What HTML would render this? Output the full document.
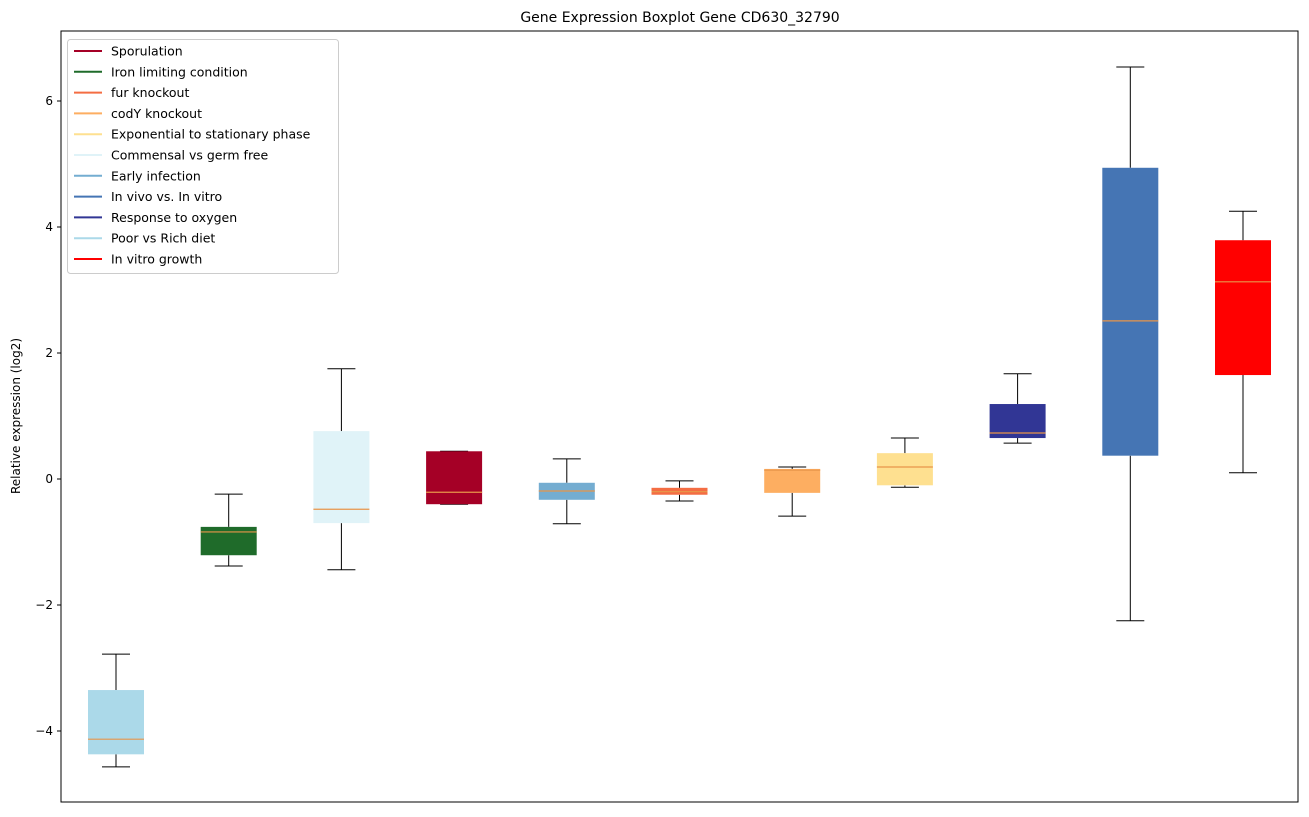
<!DOCTYPE html>
<html><head><meta charset="utf-8"><style>
body{margin:0;background:#fff;font-family:"Liberation Sans","DejaVu Sans",sans-serif;}
svg text{font-family:"DejaVu Sans","Liberation Sans",sans-serif;}
</style></head><body>
<svg id="chart" width="1309" height="812"></svg>
<script>
const categories=["Poor vs Rich diet","Iron limiting condition","Commensal vs germ free","Sporulation","Early infection","fur knockout","codY knockout","Exponential to stationary phase","Response to oxygen","In vivo vs. In vitro","In vitro growth"];
const colors=["#abd9e9","#1f6b2a","#e0f3f8","#a50026","#74add1","#f46d43","#fdae61","#fee090","#313695","#4575b4","#ff0000"];
const whiskerLow=[-4.57,-1.38,-1.44,-0.40,-0.71,-0.35,-0.59,-0.13,0.57,-2.25,0.10];
const q1=[-4.37,-1.21,-0.70,-0.40,-0.33,-0.25,-0.22,-0.10,0.65,0.37,1.65];
const median=[-4.13,-0.84,-0.48,-0.21,-0.19,-0.20,0.14,0.19,0.73,2.51,3.13];
const q3=[-3.35,-0.76,0.76,0.44,-0.06,-0.14,0.16,0.41,1.19,4.94,3.79];
const whiskerHigh=[-2.78,-0.24,1.75,0.44,0.32,-0.03,0.19,0.65,1.67,6.54,4.25];
const yTicks=[-4,-2,0,2,4,6];
const legendLabels=["Sporulation","Iron limiting condition","fur knockout","codY knockout","Exponential to stationary phase","Commensal vs germ free","Early infection","In vivo vs. In vitro","Response to oxygen","Poor vs Rich diet","In vitro growth"];
const legendColors=["#a50026","#1f6b2a","#f46d43","#fdae61","#fee090","#e0f3f8","#74add1","#4575b4","#313695","#abd9e9","#ff0000"];

const svg=document.getElementById('chart');const NS="http://www.w3.org/2000/svg";
const L=61,R=1298,T=31,B=802;
const y=v=>479-63*v;
const x=i=>116+i*112.7;
function mk(tag,attrs,parent){const e=document.createElementNS(NS,tag);for(const k in attrs)e.setAttribute(k,attrs[k]);(parent||svg).appendChild(e);return e;}
let t=mk('text',{x:680,y:22,'text-anchor':'middle','font-size':14,fill:'#000'});t.textContent="Gene Expression Boxplot Gene CD630_32790";


t=mk('text',{x:20,y:416,'text-anchor':'middle','font-size':12,transform:'rotate(-90 20 416)'});t.textContent="Relative expression (log2)";


yTicks.forEach(v=>{
 const l=mk('line',{x1:L-4,x2:L,y1:y(v),y2:y(v),stroke:'#000'});
 
 
 const tt=mk('text',{x:L-8,y:y(v)+4,'text-anchor':'end','font-size':12});tt.textContent=(v<0?'\u2212'+(-v):v);
 
 
});
categories.forEach((c,i)=>{
 const g=mk('g',{});
 
 
 const cx=x(i),hw=28,cw=14;
 mk('line',{x1:cx,x2:cx,y1:y(whiskerHigh[i]),y2:y(q3[i]),stroke:'#000'},g);
 mk('line',{x1:cx,x2:cx,y1:y(q1[i]),y2:y(whiskerLow[i]),stroke:'#000'},g);
 mk('line',{x1:cx-cw,x2:cx+cw,y1:y(whiskerHigh[i]),y2:y(whiskerHigh[i]),stroke:'#000'},g);
 mk('line',{x1:cx-cw,x2:cx+cw,y1:y(whiskerLow[i]),y2:y(whiskerLow[i]),stroke:'#000'},g);
 mk('rect',{x:cx-hw,y:y(q3[i]),width:2*hw,height:Math.max(1,y(q1[i])-y(q3[i])),fill:colors[i]},g);
 mk('line',{x1:cx-hw,x2:cx+hw,y1:y(median[i]),y2:y(median[i]),stroke:'#e8954a','stroke-width':1.2},g);
});
mk('rect',{x:L,y:T,width:R-L,height:B-T,fill:'none',stroke:'#000'});
const lg=mk('g',{});


mk('rect',{x:67.5,y:39.5,width:271,height:234,rx:3,fill:'#fff','fill-opacity':0.8,stroke:'#ccc'},lg);
legendLabels.forEach((s,i)=>{
 const yy=51+i*20.8;
 const e=mk('g',{},lg);
 
 
 mk('line',{x1:74,x2:102,y1:yy,y2:yy,stroke:legendColors[i],'stroke-width':2},e);
 const tx=mk('text',{x:111,y:yy+4.5,'font-size':12.5},e);tx.textContent=s;
});
</script>
</body></html>
